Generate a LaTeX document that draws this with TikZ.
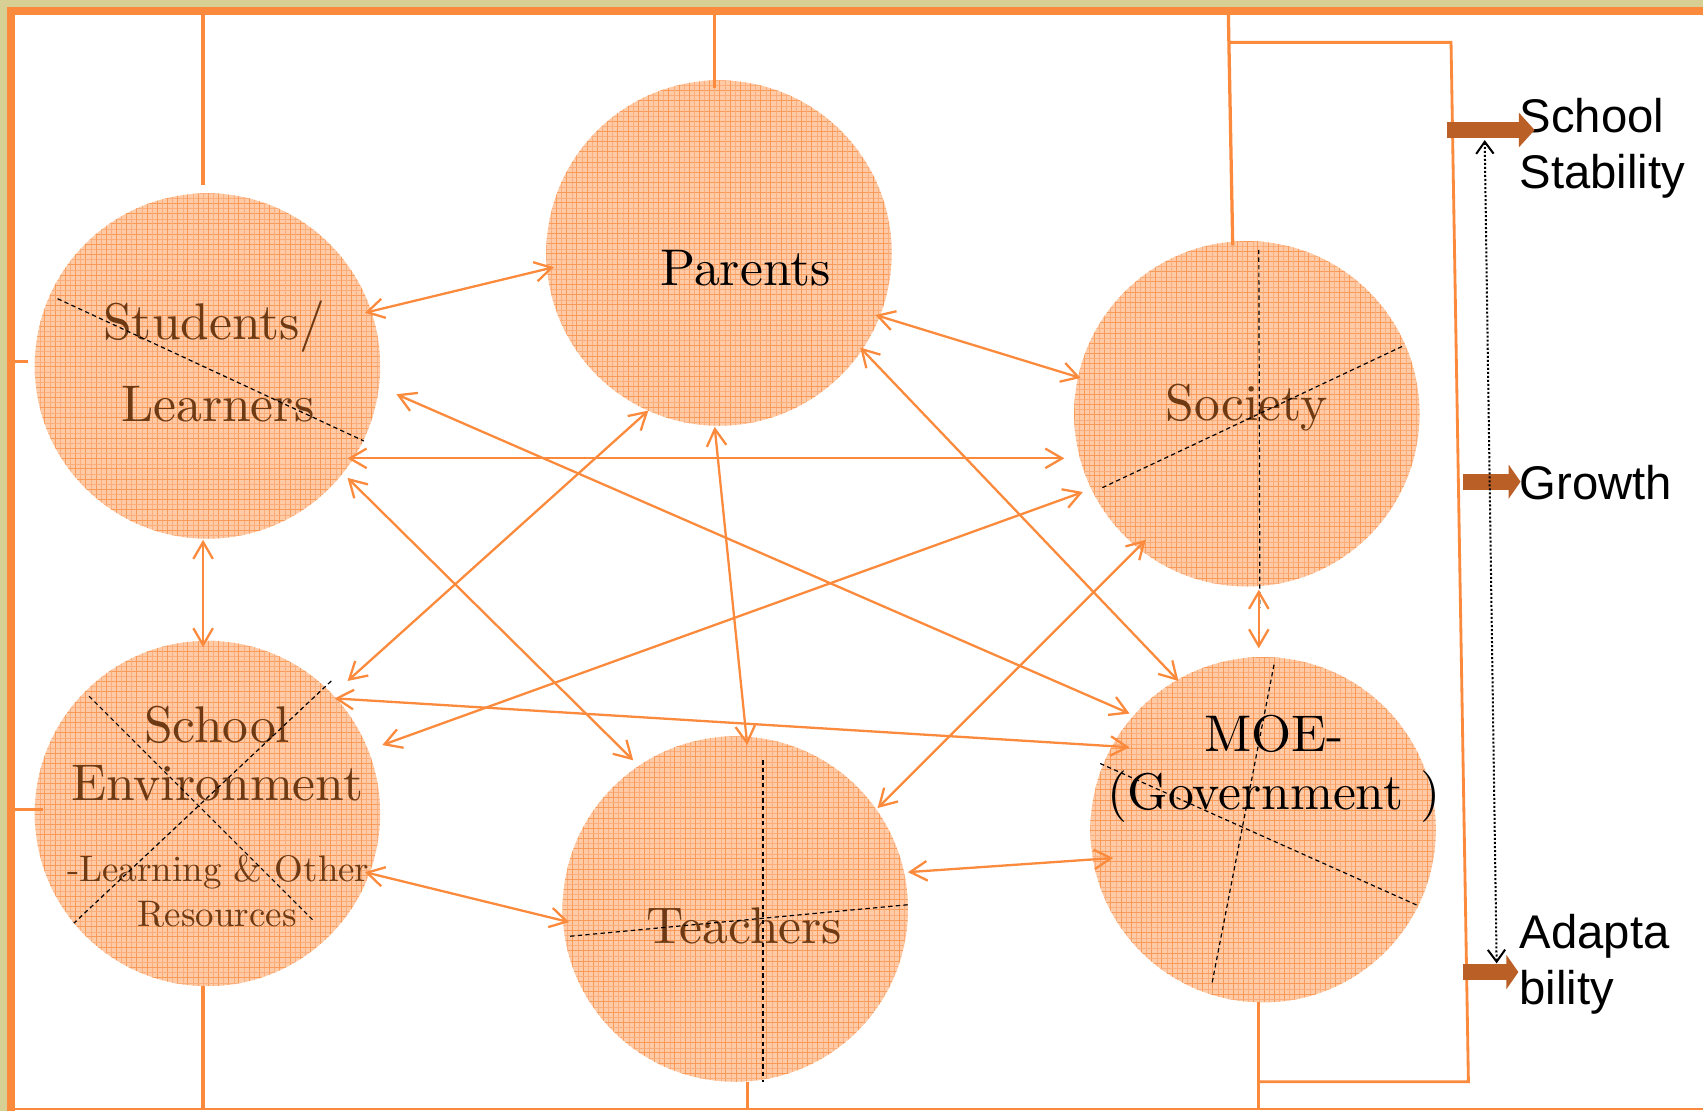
\documentclass[tikz,border=0pt]{standalone}
\usepackage{fontspec}
\newfontfamily\sansf{Liberation Sans}
\font\bigser="[lmroman10-regular]" at 47.5bp
\font\smallser="[lmroman10-regular]" at 34bp
\usetikzlibrary{arrows.meta}
\definecolor{khaki}{HTML}{D7CF93}
\definecolor{frameor}{HTML}{FB8A3C}
\definecolor{fillor}{HTML}{FFCBA7}
\definecolor{gridor}{HTML}{F99A58}
\definecolor{gridlt}{HTML}{FBAE7C}
\definecolor{txtbrown}{HTML}{6E3A14}
\definecolor{outbrown}{HTML}{BA5F26}
\tikzset{
  blob/.style={circle, minimum size=318bp, inner sep=0pt, fill=fillor,
    path picture={
      \foreach \k in {0,...,34}{
        \draw[gridlt, line width=0.5bp] ([xshift={\k*9.4bp+4.7bp}]path picture bounding box.north west) -- ([xshift={\k*9.4bp+4.7bp}]path picture bounding box.south west);
        \draw[gridlt, line width=0.5bp] ([yshift={-\k*9.4bp-4.7bp}]path picture bounding box.north west) -- ([yshift={-\k*9.4bp-4.7bp}]path picture bounding box.north east);
        \draw[gridor, line width=0.9bp] ([xshift={\k*9.4bp}]path picture bounding box.north west) -- ([xshift={\k*9.4bp}]path picture bounding box.south west);
        \draw[gridor, line width=0.9bp] ([yshift={-\k*9.4bp}]path picture bounding box.north west) -- ([yshift={-\k*9.4bp}]path picture bounding box.north east);
      }}},
  lab/.style={font=\bigser, text=txtbrown, anchor=base, inner sep=0pt},
  labs/.style={font=\smallser, text=txtbrown, anchor=base, inner sep=0pt},
  outlab/.style={font=\sansf\fontsize{43.5bp}{52bp}\selectfont, text=black, anchor=base west, inner sep=0pt},
  conn/.style={draw=frameor, line width=2.1bp,
    {Straight Barb[length=15.5bp,width=18bp]}-{Straight Barb[length=15.5bp,width=18bp]}},
  link/.style={draw=frameor, line width=3bp},
  cut/.style={draw=black, line width=1.1bp, dash pattern=on 4bp off 3bp},
  outarrow/.style={draw=outbrown, line width=14.7bp, -{Triangle[length=14.5bp,width=31bp]}},
  outarrowb/.style={draw=outbrown, line width=14.7bp, -{Triangle[length=11bp,width=31bp]}},
  dotarrow/.style={draw=black, line width=1.85bp, dash pattern=on 1.85bp off 1.85bp,
    {Straight Barb[length=11bp,width=16bp]}-{Straight Barb[length=11bp,width=16bp]}},
}
\begin{document}
\begin{tikzpicture}[x=1bp,y=-1bp]
\useasboundingbox (0,0) rectangle (1568,1023);
% background and frame
\fill[khaki] (0,0) rectangle (1568,1023);
\fill[white] (13.8,13.8) rectangle (1568,1023);
\fill[frameor] (6.4,6.4) rectangle (13.8,1023);
\fill[frameor] (6.4,6.4) rectangle (1568,13.8);
\fill[frameor] (6.4,1020.4) rectangle (1568,1022);

% circles
\node[blob] (stud) at (191,337) {};
\node[blob] (par) at (662,233) {};
\node[blob] (soc) at (1148,381) {};
\node[blob] (env) at (191,749) {};
\node[blob] (tea) at (677,837) {};
\node[blob] (moe) at (1163,764) {};

% frame links
\coordinate (fs) at (187,13.8);
\coordinate (fp) at (658,13.8);
\coordinate (fo) at (1131,13.8);
\coordinate (bk1) at (1131,39);
\coordinate (bk2) at (1336,39);
\coordinate (bk3) at (1352,996);
\coordinate (bk4) at (1159,996);
\coordinate (fb1) at (187,1021);
\coordinate (fb2) at (688,1021);
\coordinate (fb3) at (1159,1021);
\draw[link] (fs) -- ([shift={(-4,-167)}]stud.center);
\draw[link] (fp) -- ([shift={(-4,-152)}]par.center);
\draw[link] (fo) -- ([shift={(-13,-155)}]soc.center);
\draw[link, line width=2.6bp] (bk1) -- (bk2) -- (bk3) -- (bk4);
\draw[link] ([shift={(-4,159)}]env.center) -- (fb1);
\draw[link] ([shift={(11,159)}]tea.center) -- (fb2);
\draw[link] ([shift={(-4,159)}]moe.center) -- (fb3);
\draw[link] (13.8,333) -- (26,333);
\draw[link] (13.8,745) -- (40,745);

% labels
\node[lab] (t1) at (197.5,313) {Students/};
\node[lab] (t2) at (200.5,388) {Learners};
\node[lab,text=black] (t3) at (686.5,263) {Parents};
\node[lab] (t4) at (1147.5,387) {Society};
\node[lab] (t5) at (200,684) {School};
\node[lab] (t6) at (200,737) {Environment};
\node[labs] (t7) at (201,812) {-Learning \& Other};
\node[labs] (t8) at (200,853) {Resources};
\node[lab] (t9) at (685.5,869) {Teachers};
\node[lab,text=black] (t10) at (1173,692) {MOE-};
\node[lab,text=black] (t11) at (1173,745) {(Government )};

% dashed cuts
\draw[cut] (53,275) -- (335,406);
\draw[cut] (1159,230) -- (1160,560);
\draw[cut] (1015,449) -- (1293,318);
\draw[cut] (82,641) -- (289,848);
\draw[cut] (305,627) -- (68,850);
\draw[cut] (702.5,700) -- (702.5,996);
\draw[cut] (525,862) -- (836,833);
\draw[cut] (1173,612) -- (1116,905);
\draw[cut] (1013,703) -- (1306,834);

% connectors
\draw[conn] ([shift={(145,-49)}]stud.center) -- ([shift={(-152,13)}]par.center);
\draw[conn] ([shift={(144,57)}]par.center) -- ([shift={(-153,-33)}]soc.center);
\draw[conn] ([shift={(129,85)}]stud.center) -- ([shift={(-168,41)}]soc.center);
\draw[conn] ([shift={(174,26)}]stud.center) -- ([shift={(-123,-107)}]moe.center);
\draw[conn] ([shift={(129,103)}]stud.center) -- ([shift={(-94,-137)}]tea.center);
\draw[conn] ([shift={(-65,145)}]par.center) -- ([shift={(129,-122)}]env.center);
\draw[conn] ([shift={(-4,160)}]par.center) -- ([shift={(11,-151)}]tea.center);
\draw[conn] ([shift={(130,87)}]par.center) -- ([shift={(-78,-137)}]moe.center);
\draw[conn] ([shift={(-151,72)}]soc.center) -- ([shift={(161,-63)}]env.center);
\draw[conn] ([shift={(-93,116)}]soc.center) -- ([shift={(131,-93)}]tea.center);
\draw[conn] ([shift={(11,162)}]soc.center) -- ([shift={(-4,-167)}]moe.center);
\draw[conn] ([shift={(117,-106)}]env.center) -- ([shift={(-123,-76)}]moe.center);
\draw[conn] ([shift={(145,54)}]env.center) -- ([shift={(-153,12)}]tea.center);
\draw[conn] ([shift={(159,-34)}]tea.center) -- ([shift={(-138,26)}]moe.center);
\draw[conn] ([shift={(-4,160)}]stud.center) -- ([shift={(-4,-153)}]env.center);

% outcomes
\node[outlab] (o1) at (1399,122) {School};
\node[outlab] (o2) at (1399,174) {Stability};
\node[outlab] (o3) at (1399,460) {Growth};
\node[outlab] (o4) at (1399,873) {Adapta};
\node[outlab] (o5) at (1399,925) {bility};
\coordinate (a1s) at (1332,119.7);
\coordinate (a1e) at (1413,119.7);
\coordinate (a2s) at (1347,443.5);
\coordinate (a2e) at (1400,443.5);
\coordinate (a3s) at (1347,895);
\coordinate (a3e) at (1398,895);
\draw[outarrow] (a1s) -- (a1e);
\draw[outarrowb] (a2s) -- (a2e);
\draw[outarrowb] (a3s) -- (a3e);
\coordinate (dtop) at (1367,129);
\coordinate (dbot) at (1378,887);
\draw[dotarrow] (dtop) -- (dbot);
\end{tikzpicture}
\end{document}
